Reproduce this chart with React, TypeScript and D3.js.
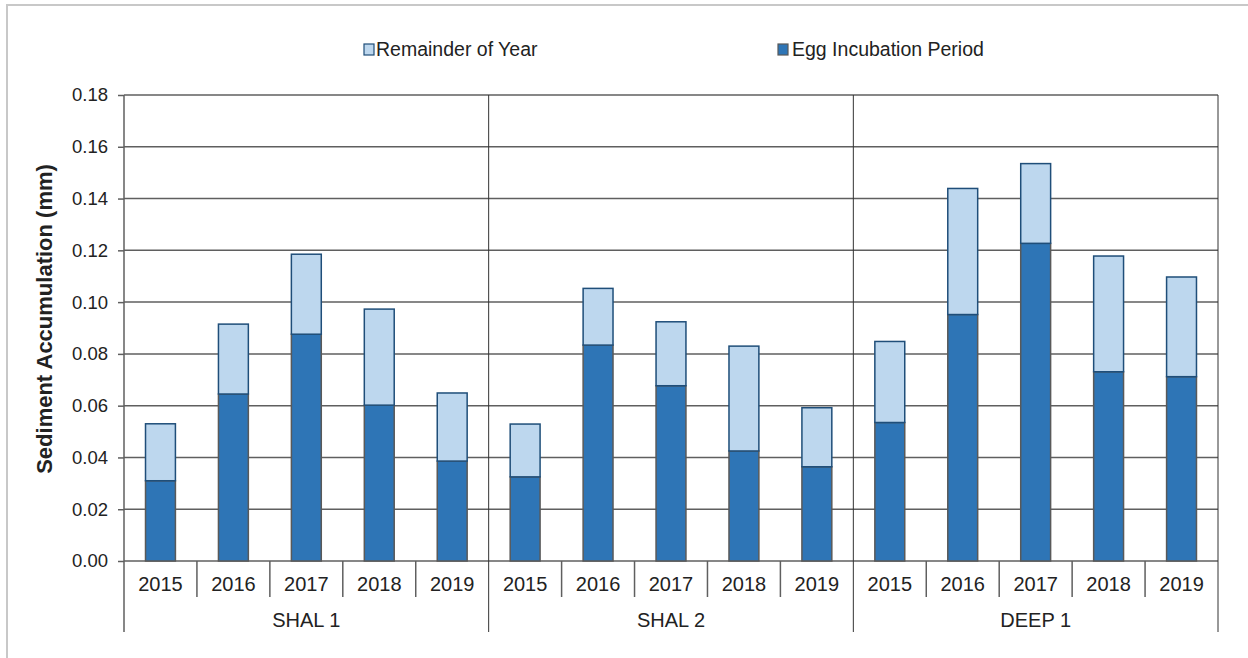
import * as d3 from "d3"
import { useEffect, useRef } from 'react'

const sites = ["SHAL 1", "SHAL 2", "DEEP 1"]
const years = ["2015", "2016", "2017", "2018", "2019"]
// egg incubation period portion, per site, per year
const eggIncubation = [
  [0.031, 0.0645, 0.0876, 0.0602, 0.0386],
  [0.0325, 0.0834, 0.0677, 0.0425, 0.0364],
  [0.0535, 0.0952, 0.1227, 0.0731, 0.0712],
]
// annual total (egg + remainder)
const annualTotal = [
  [0.053, 0.0915, 0.1185, 0.0973, 0.0649],
  [0.0529, 0.1053, 0.0924, 0.083, 0.0592],
  [0.0848, 0.1439, 0.1535, 0.1178, 0.1097],
]
const yTicks = [0, 0.02, 0.04, 0.06, 0.08, 0.1, 0.12, 0.14, 0.16, 0.18]

const W = 1248, H = 658
const margin = { top: 95, right: 30, bottom: 97, left: 124 }
const FONT = "Liberation Sans, Arial, sans-serif"
const GRID = "#5f5f5f"
const DARK = "#2e75b6"
const LIGHT = "#bdd7ee"

export default function App() {
  const yAxisRef = useRef(null)

  const cats = sites.flatMap(s => years.map(y => `${s}|${y}`))
  const x = d3.scaleBand().domain(cats).range([margin.left, W - margin.right]).paddingInner(0).paddingOuter(0)
  const y = d3.scaleLinear().domain([0, 0.18]).range([H - margin.bottom, margin.top])
  const bw = x.bandwidth() * 0.41
  const base = y(0)

  useEffect(() => {
    const g = d3.select(yAxisRef.current)
    g.call(d3.axisLeft(y).tickValues(yTicks).tickSize(6).tickPadding(10).tickFormat(d3.format(".2f")))
    g.select(".domain").remove()
    g.selectAll(".tick line").attr("stroke", GRID).attr("stroke-width", 1.5)
    g.selectAll(".tick text").attr("font-size", 18.5).attr("font-family", FONT).attr("fill", "#222")
  }, [])

  const groupW = x.bandwidth() * years.length

  return (
    <svg width={W} height={H} style={{ position: "absolute", left: 0, top: 0, background: "#fff" }}>
      <rect x={7} y={5} width={W} height={H} fill="none" stroke="#c8c8c8" strokeWidth={2} />

      {/* legend */}
      <g fontFamily={FONT} fontSize={19.5} fill="#222">
        <rect x={364} y={44} width={10} height={11} fill={LIGHT} stroke="#1f4e79" strokeWidth={1.2} />
        <text x={376} y={56}>Remainder of Year</text>
        <rect x={778} y={44} width={10} height={11} fill={DARK} stroke="#595959" strokeWidth={1.2} />
        <text x={792} y={56}>Egg Incubation Period</text>
      </g>

      {/* gridlines */}
      {yTicks.map(t => (
        <line key={t} x1={margin.left} x2={W - margin.right} y1={y(t)} y2={y(t)} stroke={GRID} strokeWidth={1.5} />
      ))}

      {/* group separators, left axis, right edge */}
      {d3.range(sites.length + 1).map(i => {
        const xx = margin.left + i * groupW
        return <line key={i} x1={xx} x2={xx} y1={margin.top} y2={632} stroke={i === 0 ? GRID : "#333"} strokeWidth={i === 0 ? 1.5 : 1} />
      })}

      {/* year tick lines */}
      {cats.map((c, i) => i % years.length === 0 ? null : (
        <line key={c} x1={x(c)} x2={x(c)} y1={base} y2={597} stroke={GRID} strokeWidth={1.5} />
      ))}

      {/* bars */}
      {sites.map((s, si) => years.map((yr, yi) => {
        const cx = x(`${s}|${yr}`) + x.bandwidth() / 2
        const egg = eggIncubation[si][yi]
        const tot = annualTotal[si][yi]
        return (
          <g key={s + yr}>
            <rect x={cx - bw / 2} y={y(egg)} width={bw} height={base - y(egg)} fill={DARK} stroke="#595959" strokeWidth={1.5} />
            <rect x={cx - bw / 2} y={y(tot)} width={bw} height={y(egg) - y(tot)} fill={LIGHT} stroke="#1f4e79" strokeWidth={1.5} />
          </g>
        )
      }))}

      <g ref={yAxisRef} transform={`translate(${margin.left},0)`} />

      {/* x labels */}
      <g fontFamily={FONT} fontSize={20} fill="#222" textAnchor="middle">
        {cats.map(c => (
          <text key={c} x={x(c) + x.bandwidth() / 2} y={591}>{c.split("|")[1]}</text>
        ))}
        {sites.map((s, i) => (
          <text key={s} x={margin.left + (i + 0.5) * groupW} y={627}>{s}</text>
        ))}
      </g>

      <text transform={`translate(52,319) rotate(-90)`} textAnchor="middle"
        fontFamily={FONT} fontSize={22} fontWeight="bold" fill="#222">Sediment Accumulation  (mm)</text>
    </svg>
  )
}
